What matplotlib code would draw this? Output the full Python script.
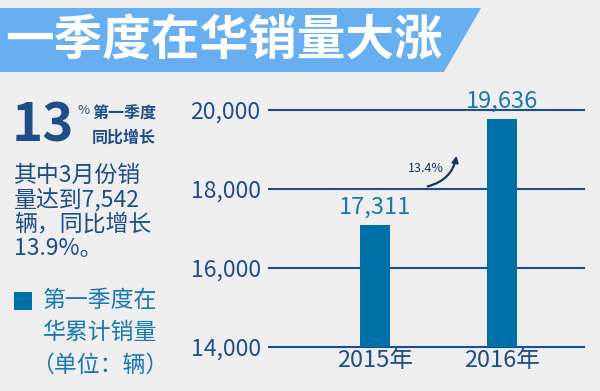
import matplotlib.pyplot as plt
from matplotlib.patches import Polygon, Rectangle

plt.rcParams['font.family'] = ['Noto Sans CJK SC', 'DejaVu Sans']

# data
years = ['2015年', '2016年']
bar_heights = [17080, 19780]      # heights as drawn in the picture
value_labels = ['17,311', '19,636']
yticks = [14000, 16000, 18000, 20000]
growth = '13.4%'

navy = '#1f4e86'
bar_blue = '#0070a8'
label_blue = '#1a78b0'
bg = '#eeeeee'

W, H = 600, 391
fig = plt.figure(figsize=(6, 3.91), dpi=100, facecolor=bg)

def fx(px):
    return px / W

def fy(py):
    return 1 - py / H

# title banner
banner = Polygon([(fx(0), fy(8)), (fx(481), fy(8)), (fx(444), fy(72)), (fx(0), fy(72))],
                 closed=True, transform=fig.transFigure, facecolor='#68aff2', edgecolor='none')
fig.patches.append(banner)
fig.text(fx(5), fy(41), '一季度在华销量大涨', color='white', fontsize=35, fontweight='heavy',
         ha='left', va='center')

# left panel
fig.text(fx(12), fy(126), '13', color=navy, fontsize=38, fontweight='heavy', ha='left', va='center')
fig.text(fx(77), fy(111), '%', color=navy, fontsize=9.5, ha='left', va='center')
fig.text(fx(92), fy(114), '第一季度', color=navy, fontsize=11.5, fontweight='bold', ha='left', va='center')
fig.text(fx(92), fy(138), '同比增长', color=navy, fontsize=11.5, fontweight='bold', ha='left', va='center')

body = ['其中3月份销', '量达到7,542', '辆，同比增长', '13.9%。']
for i, line in enumerate(body):
    fig.text(fx(14), fy(175 + i * 24.5), line, color=navy, fontsize=16.5, ha='left', va='center')

sq = Rectangle((fx(14), fy(310)), fx(18), 18 / H, transform=fig.transFigure,
               facecolor=bar_blue, edgecolor='none')
fig.patches.append(sq)
legend_lines = ['第一季度在', '华累计销量', '（单位：辆）']
legend_x = [43, 43, 31]
for i, line in enumerate(legend_lines):
    fig.text(fx(legend_x[i]), fy(300 + i * 32.5), line, color=label_blue, fontsize=16.5,
             ha='left', va='center')

# bar chart
ax = fig.add_axes([fx(269), fy(346.7), fx(584 - 269), (346.7 - 110) / H])
ax.set_facecolor(bg)
x = range(len(years))
ax.bar(x, bar_heights, width=0.236, color=bar_blue, zorder=3)
ax.set_xlim(-0.835, 1.646)
ax.set_ylim(14000, 20000)
ax.set_yticks(yticks)
ax.set_yticklabels([f'{v:,}' for v in yticks], color=navy, fontsize=16.5)
ax.set_xticks(list(x))
ax.set_xticklabels(years, color=navy, fontsize=17)
ax.tick_params(length=0, pad=6)
ax.tick_params(axis='x', pad=2)
for v in yticks:
    ax.axhline(v, color=navy, linewidth=1.5, zorder=1, clip_on=False)
for s in ax.spines.values():
    s.set_visible(False)

for xi, h, lab in zip(x, bar_heights, value_labels):
    ax.text(xi, h + 160, lab, color=label_blue, fontsize=17, ha='center', va='bottom', clip_on=False)

# growth arrow
ax.annotate('', xy=(fx(457), fy(153)), xycoords='figure fraction',
            xytext=(fx(425), fy(187)), textcoords='figure fraction',
            arrowprops=dict(arrowstyle='-|>', color='#17335e', lw=1.6,
                            connectionstyle='arc3,rad=0.35', mutation_scale=9))
fig.text(fx(426), fy(169), growth, color='#17335e', fontsize=9, ha='center', va='center')

plt.savefig('out.png', dpi=100, facecolor=bg)
